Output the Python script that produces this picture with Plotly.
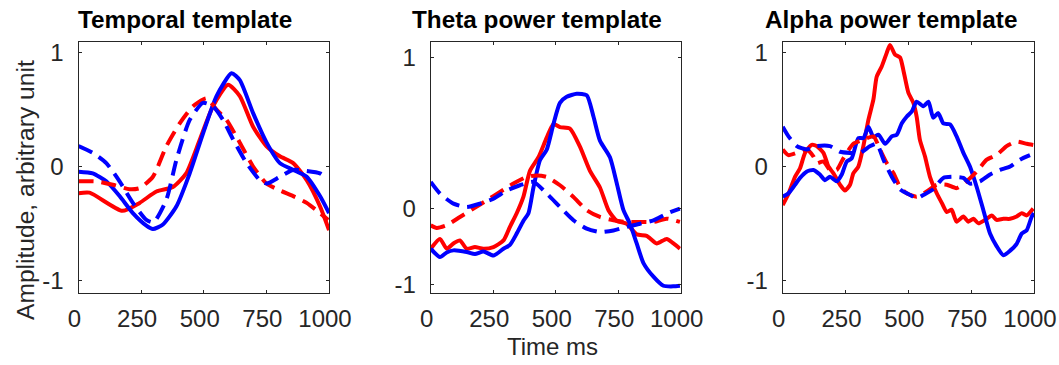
import plotly.graph_objects as go

# ---------------- data ----------------
# Panel 1: Temporal template
t1_red_solid_x = [0, 44, 175, 244, 311, 377, 430, 484, 537, 597, 644, 697, 750, 804, 857, 911, 964, 1000]
t1_red_solid_y = [-0.235, -0.23, -0.39, -0.32, -0.22, -0.18, -0.06, 0.235, 0.53, 0.72, 0.62, 0.35, 0.18, 0.09, 0.03, -0.12, -0.35, -0.56]
t1_blue_solid_x = [0, 57, 111, 164, 217, 271, 297, 337, 391, 444, 497, 551, 611, 644, 697, 751, 804, 857, 911, 964, 1000]
t1_blue_solid_y = [-0.045, -0.06, -0.13, -0.26, -0.41, -0.52, -0.55, -0.51, -0.35, -0.06, 0.29, 0.62, 0.82, 0.76, 0.47, 0.21, 0.03, -0.03, -0.09, -0.26, -0.41]
t1_red_dash_x = [0, 71, 137, 204, 244, 297, 351, 404, 457, 511, 551, 591, 644, 697, 751, 804, 857, 911, 964, 997]
t1_red_dash_y = [-0.13, -0.13, -0.16, -0.2, -0.19, -0.09, 0.18, 0.38, 0.53, 0.6, 0.5, 0.41, 0.21, 0.0, -0.15, -0.21, -0.26, -0.32, -0.41, -0.47]
t1_blue_dash_x = [0, 57, 111, 164, 217, 271, 300, 351, 391, 444, 497, 537, 577, 617, 671, 724, 751, 804, 857, 911, 964, 984]
t1_blue_dash_y = [0.18, 0.12, 0.03, -0.13, -0.32, -0.47, -0.49, -0.29, 0.06, 0.41, 0.56, 0.53, 0.41, 0.24, 0.03, -0.12, -0.15, -0.09, -0.03, -0.04, -0.06, -0.09]

# Panel 2: Theta power template
t2_red_solid_x = [0, 37, 64, 91, 117, 144, 177, 211, 251, 291, 317, 344, 371, 397, 431, 464, 491, 517, 557, 597, 637, 677, 711, 744, 784, 824, 864, 904, 944, 971, 997]
t2_red_solid_y = [-0.265, -0.2, -0.265, -0.23, -0.21, -0.265, -0.254, -0.265, -0.254, -0.21, -0.12, -0.03, 0.08, 0.25, 0.34, 0.47, 0.56, 0.54, 0.53, 0.41, 0.25, 0.14, -0.01, -0.08, -0.1, -0.17, -0.18, -0.23, -0.2, -0.23, -0.265]
t2_blue_solid_x = [0, 37, 64, 91, 144, 177, 211, 251, 291, 317, 344, 371, 391, 411, 437, 464, 491, 517, 544, 584, 624, 651, 677, 717, 744, 771, 797, 824, 851, 891, 931, 971, 997]
t2_blue_solid_y = [-0.265, -0.32, -0.29, -0.276, -0.287, -0.3, -0.283, -0.31, -0.265, -0.24, -0.165, -0.08, -0.03, 0.14, 0.32, 0.39, 0.56, 0.7, 0.74, 0.76, 0.75, 0.61, 0.45, 0.34, 0.17, -0.01, -0.1, -0.23, -0.36, -0.45, -0.51, -0.514, -0.51]
t2_red_dash_x = [0, 24, 64, 117, 171, 224, 277, 331, 384, 424, 464, 517, 571, 624, 677, 731, 784, 837, 891, 944, 997]
t2_red_dash_y = [-0.11, -0.128, -0.11, -0.055, 0.0, 0.055, 0.11, 0.166, 0.21, 0.22, 0.21, 0.155, 0.077, -0.01, -0.055, -0.077, -0.088, -0.088, -0.088, -0.066, -0.088]
t2_blue_dash_x = [0, 37, 91, 144, 197, 251, 304, 357, 411, 464, 517, 571, 624, 677, 731, 784, 837, 891, 944, 997]
t2_blue_dash_y = [0.177, 0.1, 0.033, 0.011, 0.033, 0.066, 0.12, 0.155, 0.177, 0.1, 0.011, -0.077, -0.132, -0.155, -0.144, -0.12, -0.1, -0.077, -0.033, 0.0]

# Panel 3: Alpha power template
t3_red_solid_x = [0, 23, 49, 69, 89, 115, 135, 162, 182, 202, 228, 248, 268, 281, 301, 321, 341, 361, 374, 394, 414, 427, 447, 467, 480, 500, 520, 533, 546, 566, 586, 613, 633, 653, 672, 692, 719, 739, 759, 779, 805, 832, 851, 878, 905, 931, 951, 971, 997]
t3_red_solid_y = [-0.34, -0.24, -0.09, -0.015, 0.12, 0.19, 0.18, 0.12, 0.0, -0.06, -0.16, -0.21, -0.16, -0.06, 0.0, 0.18, 0.41, 0.59, 0.79, 0.88, 1.0, 1.07, 0.985, 0.96, 0.85, 0.65, 0.56, 0.44, 0.235, 0.09, -0.09, -0.235, -0.32, -0.4, -0.38, -0.485, -0.44, -0.485, -0.46, -0.5, -0.47, -0.43, -0.47, -0.46, -0.46, -0.44, -0.41, -0.43, -0.37]
t3_blue_solid_x = [0, 23, 49, 69, 95, 122, 148, 168, 188, 215, 235, 255, 274, 301, 321, 341, 361, 381, 408, 434, 454, 474, 494, 514, 533, 560, 580, 599, 619, 639, 666, 692, 719, 745, 772, 798, 825, 851, 878, 905, 931, 951, 971, 991, 1000]
t3_blue_solid_y = [-0.265, -0.235, -0.16, -0.1, -0.045, -0.03, -0.07, -0.12, -0.09, -0.13, -0.07, 0.045, 0.07, 0.25, 0.25, 0.35, 0.26, 0.28, 0.2, 0.265, 0.28, 0.38, 0.44, 0.485, 0.57, 0.53, 0.57, 0.43, 0.47, 0.38, 0.37, 0.265, 0.12, 0.0, -0.18, -0.38, -0.59, -0.7, -0.78, -0.74, -0.68, -0.59, -0.56, -0.44, -0.41]
t3_red_dash_x = [0, 23, 56, 95, 122, 135, 162, 188, 215, 241, 281, 321, 361, 387, 414, 441, 467, 493, 533, 573, 613, 653, 692, 732, 772, 812, 851, 891, 931, 971, 997]
t3_red_dash_y = [0.15, 0.1, 0.12, 0.15, 0.09, 0.03, 0.045, -0.03, -0.03, 0.07, 0.2, 0.235, 0.265, 0.15, 0.03, -0.06, -0.18, -0.235, -0.265, -0.22, -0.16, -0.16, -0.19, -0.13, -0.045, 0.06, 0.1, 0.18, 0.22, 0.2, 0.19]
t3_blue_dash_x = [0, 23, 56, 95, 135, 188, 228, 268, 308, 348, 374, 401, 434, 467, 507, 533, 560, 599, 639, 679, 719, 745, 785, 825, 865, 905, 944, 984]
t3_blue_dash_y = [0.35, 0.265, 0.18, 0.15, 0.18, 0.18, 0.13, 0.12, 0.12, 0.18, 0.2, 0.06, -0.09, -0.2, -0.25, -0.28, -0.25, -0.2, -0.1, -0.09, -0.1, -0.15, -0.13, -0.07, -0.03, 0.0, 0.06, 0.1]

titles = ["Temporal template", "Theta power template", "Alpha power template"]
x_ticks = [0, 250, 500, 750, 1000]
x_tick_labels = ["0", "250", "500", "750", "1000"]
y_tick_labels = ["1", "0", "-1"]
y_tick_vals_std = [1, 0, -1]
y_tick_vals_theta = [1, 0, -0.505]
y_label = "Amplitude, arbitrary unit"
x_label = "Time ms"

# ---------------- figure ----------------
W, H = 1059, 365
RED, BLUE = "#FF0000", "#0000FF"
LW = 4
DASH = "15px,8px"

panels = [
    (t1_red_solid_x, t1_red_solid_y, t1_blue_solid_x, t1_blue_solid_y,
     t1_red_dash_x, t1_red_dash_y, t1_blue_dash_x, t1_blue_dash_y),
    (t2_red_solid_x, t2_red_solid_y, t2_blue_solid_x, t2_blue_solid_y,
     t2_red_dash_x, t2_red_dash_y, t2_blue_dash_x, t2_blue_dash_y),
    (t3_red_solid_x, t3_red_solid_y, t3_blue_solid_x, t3_blue_solid_y,
     t3_red_dash_x, t3_red_dash_y, t3_blue_dash_x, t3_blue_dash_y),
]

x_domains_px = [(78.5, 329), (430.7, 680.7), (782.7, 1034)]
y_top_px, y_bot_px = 41.5, 292.7
y_ranges = [[-1.11, 1.10], [-0.556, 1.106], [-1.11, 1.10]]
y_tickvals = [y_tick_vals_std, y_tick_vals_theta, y_tick_vals_std]
title_centers_px = [185, 537, 891]

fig = go.Figure()
FONT = "Liberation Sans, Arial, Helvetica, sans-serif"
TICK_COLOR = "#262626"

for i, p in enumerate(panels):
    xa = "x" if i == 0 else f"x{i+1}"
    ya = "y" if i == 0 else f"y{i+1}"
    rsx, rsy, bsx, bsy, rdx, rdy, bdx, bdy = p
    for xs, ys, col, dash in [(rsx, rsy, RED, "solid"), (bsx, bsy, BLUE, "solid"),
                              (rdx, rdy, RED, DASH), (bdx, bdy, BLUE, DASH)]:
        fig.add_trace(go.Scatter(x=xs, y=ys, mode="lines", xaxis=xa, yaxis=ya,
                                 line=dict(color=col, width=LW, dash=dash, shape="spline", smoothing=0.6),
                                 showlegend=False, hoverinfo="skip"))
    x0, x1 = x_domains_px[i]
    axis_common = dict(showline=True, linecolor=TICK_COLOR, linewidth=1, mirror="ticks",
                       ticks="inside", ticklen=3, tickcolor=TICK_COLOR, showgrid=False,
                       zeroline=False, automargin=False, ticklabeloverflow="allow",
                       tickfont=dict(family=FONT, size=24, color=TICK_COLOR))
    fig.layout[("xaxis" if i == 0 else f"xaxis{i+1}")] = dict(
        domain=[x0 / W, x1 / W], range=[0, 1000], anchor=ya, ticklabelstandoff=4,
        ticklabelshift=-4,
        tickvals=x_ticks, ticktext=x_tick_labels, **axis_common)
    fig.layout[("yaxis" if i == 0 else f"yaxis{i+1}")] = dict(
        domain=[1 - y_bot_px / H, 1 - y_top_px / H], range=y_ranges[i], anchor=xa, ticklabelstandoff=9,
        tickvals=y_tickvals[i], ticktext=y_tick_labels, **axis_common)
    fig.add_annotation(text=f"<b>{titles[i]}</b>", xref="paper", yref="paper",
                       x=title_centers_px[i] / W, y=1 - 19 / H, xanchor="center", yanchor="middle",
                       showarrow=False, font=dict(family=FONT, size=24.3, color="black"))

fig.add_annotation(text=y_label, xref="paper", yref="paper", x=25 / W, y=1 - 190 / H,
                   xanchor="center", yanchor="middle", textangle=-90, showarrow=False,
                   font=dict(family=FONT, size=24.6, color=TICK_COLOR))
fig.add_annotation(text=x_label, xref="paper", yref="paper", x=552 / W, y=1 - 346 / H,
                   xanchor="center", yanchor="middle", showarrow=False,
                   font=dict(family=FONT, size=24, color=TICK_COLOR))

fig.update_layout(width=W, height=H, margin=dict(l=0, r=0, t=0, b=0, autoexpand=False),
                  paper_bgcolor="white", plot_bgcolor="white")

fig.write_html("out.html")
